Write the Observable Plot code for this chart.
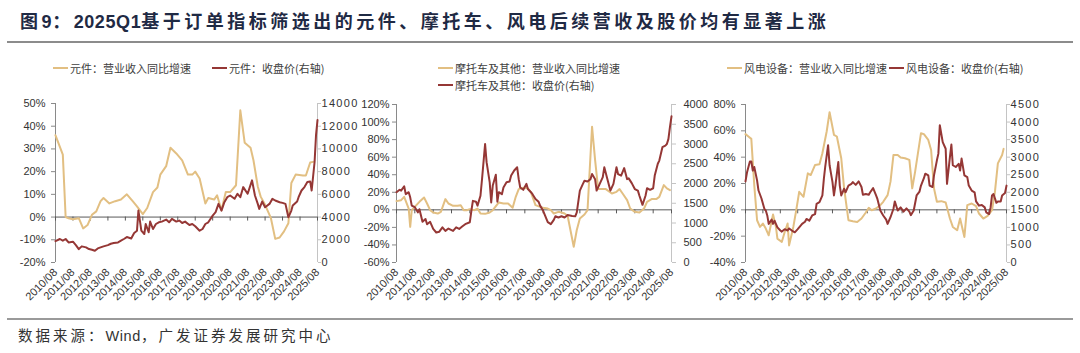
<!DOCTYPE html>
<html><head><meta charset="utf-8">
<script src="https://cdn.jsdelivr.net/npm/d3@7"></script>
<script src="https://cdn.jsdelivr.net/npm/@observablehq/plot@0.6"></script>
<style>
html,body{margin:0;padding:0;background:#fff;}
#root{position:relative;width:1080px;height:353px;overflow:hidden;font-family:"Noto Sans CJK SC",sans-serif;}
.abs{position:absolute;white-space:nowrap;}
.title{left:20px;top:13px;font-family:"Liberation Sans","Noto Sans CJK SC",sans-serif;font-size:18px;line-height:19px;font-weight:bold;color:#1f2a44;letter-spacing:3.5px;}
.lat{letter-spacing:0.6px;}
.hr{left:7px;width:1066px;}
.caption{left:18px;top:328px;font-family:"Liberation Sans","Noto Sans CJK SC",sans-serif;font-size:14.5px;line-height:16px;color:#333;letter-spacing:3px;}
.leg{font-size:11px;line-height:13px;color:#404040;}
.sw{position:absolute;height:2px;width:15px;}
</style></head>
<body><div id="root"></div>
<script>
// ---------- data ----------
const xTickLabels = ["2010/08","2011/08","2012/08","2013/08","2014/08","2015/08","2016/08","2017/08","2018/08","2019/08","2020/08","2021/08","2022/08","2023/08","2024/08","2025/08"];

const legendLabels = [
  ["元件：营业收入同比增速", "元件：收盘价(右轴)"],
  ["摩托车及其他：营业收入同比增速", "摩托车及其他：收盘价(右轴)"],
  ["风电设备：营业收入同比增速", "风电设备：收盘价(右轴)"]
];

const leftTicks1 = [-20,-10,0,10,20,30,40,50];
const rightTicks1 = [0,2000,4000,6000,8000,10000,12000,14000];
const leftTicks2 = [-60,-40,-20,0,20,40,60,80,100,120];
const rightTicks2 = [0,500,1000,1500,2000,2500,3000,3500,4000];
const leftTicks3 = [-40,-20,0,20,40,60,80];
const rightTicks3 = [0,500,1000,1500,2000,2500,3000,3500,4000,4500];

// 元件
const yjGrowth = [["2010-08",36],["2011-01",27.5],["2011-03",0],["2011-05",-0.5],["2011-08",-1],["2011-12",-0.5],["2012-03",-5],["2012-06",-3.5],["2012-09",1],["2012-12",2.5],["2013-03",7],["2013-05",8.4],["2013-09",6],["2014-01",7],["2014-05",7.7],["2014-09",10],["2015-01",7],["2015-04",4.7],["2015-08",1.3],["2015-11",4],["2016-03",11],["2016-06",13],["2016-08",18.7],["2016-12",22.4],["2017-03",30.5],["2017-07",28],["2017-11",25],["2018-03",18.7],["2018-06",18.7],["2018-08",20],["2018-11",17],["2019-03",6],["2019-05",8.4],["2019-09",7.7],["2019-11",9.6],["2020-02",3],["2020-05",11],["2020-08",11],["2020-12",14],["2021-03",47],["2021-06",32.7],["2021-10",30.5],["2021-12",25],["2022-03",13.5],["2022-05",9],["2022-08",5.4],["2022-12",-0.5],["2023-03",-9.6],["2023-06",-9],["2023-09",-6.3],["2023-12",-2.7],["2024-02",15],["2024-05",18.7],["2024-10",18.3],["2024-12",18.3],["2025-03",24],["2025-05",24.3]];
const yjPrice = [["2010-08",1880],["2010-11",2070],["2011-01",1920],["2011-03",2070],["2011-05",1770],["2011-08",1830],["2011-10",1530],["2011-12",1180],["2012-02",1420],["2012-05",1330],["2012-07",1180],["2012-09",1120],["2012-11",1030],["2013-01",1240],["2013-03",1330],["2013-05",1420],["2013-08",1530],["2013-10",1650],["2013-12",1710],["2014-03",1770],["2014-05",1920],["2014-07",2070],["2014-09",2240],["2014-12",2120],["2015-02",2600],["2015-04",2800],["2015-05",4570],["2015-06",3690],["2015-07",2800],["2015-09",2510],["2015-10",3390],["2015-12",2660],["2016-01",3600],["2016-03",2950],["2016-05",3390],["2016-07",3540],["2016-09",3600],["2016-12",3780],["2017-02",3540],["2017-04",3840],["2017-07",3600],["2017-09",3690],["2017-11",3480],["2018-01",3600],["2018-04",3300],["2018-06",3390],["2018-08",3190],["2018-11",2800],["2019-01",2950],["2019-03",3390],["2019-05",3540],["2019-08",4130],["2019-10",4430],["2019-12",5160],["2020-02",4570],["2020-04",5310],["2020-06",5750],["2020-08",5900],["2020-11",5610],["2021-01",6050],["2021-03",5750],["2021-05",6640],["2021-08",6050],["2021-10",6840],["2021-11",7230],["2022-01",5900],["2022-03",5160],["2022-04",4720],["2022-06",5370],["2022-08",4870],["2022-11",5160],["2023-01",5610],["2023-03",5460],["2023-06",5310],["2023-08",5250],["2023-10",5160],["2023-12",3980],["2024-02",4570],["2024-03",5020],["2024-06",5370],["2024-07",5750],["2024-09",6340],["2024-11",6640],["2025-01",7080],["2025-03",7140],["2025-04",6340],["2025-06",8850],["2025-07",11210],["2025-08",12540]];

// 摩托车及其他
const mtcGrowth = [["2010-08",9.9],["2010-11",11],["2011-01",14.8],["2011-04",1.5],["2011-05",-19.4],["2011-06",-0.4],["2011-09",5.3],["2011-11",9.1],["2012-02",14],["2012-04",7.2],["2012-06",-0.4],["2012-08",-3],["2012-11",-4.2],["2013-01",-2.3],["2013-04",12.2],["2013-06",7.2],["2013-09",4.6],["2013-12",4.6],["2014-02",5.3],["2014-04",-0.4],["2014-06",-0.4],["2014-08",0.8],["2014-11",-0.4],["2015-01",1.5],["2015-03",-4.2],["2015-06",-4.6],["2015-09",-3],["2015-11",-0.4],["2016-03",8.4],["2016-06",7.2],["2016-09",7.2],["2016-12",2.3],["2017-02",14.8],["2017-04",23.6],["2017-07",25.1],["2017-10",24.4],["2017-12",19.8],["2018-03",5.3],["2018-06",3.4],["2018-08",2.3],["2018-11",1.5],["2019-01",-0.4],["2019-03",-4.2],["2019-06",-2.3],["2019-08",-3],["2019-10",-4.2],["2019-12",-6.8],["2020-04",-42],["2020-06",-23],["2020-08",-9.9],["2020-11",-5.3],["2021-01",-0.4],["2021-04",94.7],["2021-06",56.7],["2021-08",23.6],["2021-10",23.6],["2022-01",23.6],["2022-05",18.6],["2022-08",20.5],["2022-10",23.6],["2022-12",18.6],["2023-03",11],["2023-05",1.5],["2023-08",-2.3],["2023-11",-3],["2024-02",1.5],["2024-04",9.1],["2024-07",12.2],["2024-10",12.2],["2024-12",14.8],["2025-03",28.2],["2025-05",24.4],["2025-07",22.5]];
const mtcPrice = [["2010-08",1780],["2010-10",1840],["2010-11",1820],["2011-01",1930],["2011-02",1730],["2011-04",1780],["2011-05",1650],["2011-06",1440],["2011-08",1400],["2011-10",1270],["2011-11",1350],["2012-01",1030],["2012-03",1100],["2012-04",970],["2012-06",1030],["2012-08",850],["2012-10",760],["2012-12",780],["2013-02",890],["2013-04",800],["2013-06",860],["2013-09",800],["2013-11",890],["2014-01",850],["2014-03",910],["2014-05",970],["2014-08",1020],["2014-09",1310],["2014-10",1560],["2014-12",1540],["2015-01",1440],["2015-03",1690],["2015-04",2110],["2015-06",3000],["2015-07",2540],["2015-09",2030],["2015-10",1520],["2015-11",1950],["2016-01",2220],["2016-02",1540],["2016-03",1780],["2016-05",1730],["2016-06",1900],["2016-08",2030],["2016-10",2050],["2016-11",2200],["2017-01",2330],["2017-03",2410],["2017-04",2110],["2017-05",1900],["2017-07",1840],["2017-09",1990],["2017-10",1860],["2017-12",1780],["2018-01",1730],["2018-03",1610],["2018-05",1540],["2018-06",1440],["2018-08",1310],["2018-10",1120],["2018-11",1020],["2019-01",970],["2019-03",1080],["2019-04",1170],["2019-06",1140],["2019-08",1170],["2019-10",1140],["2019-12",1200],["2020-03",1180],["2020-05",1170],["2020-06",1270],["2020-08",1820],["2020-10",1990],["2020-11",2070],["2021-01",2050],["2021-03",2110],["2021-04",2240],["2021-06",2110],["2021-07",1820],["2021-09",1990],["2021-11",2160],["2021-12",2410],["2022-02",2110],["2022-04",1820],["2022-06",1990],["2022-08",2410],["2022-09",2240],["2022-11",2200],["2023-01",2390],["2023-03",2110],["2023-04",2130],["2023-06",2010],["2023-08",1860],["2023-10",1820],["2023-11",1690],["2024-01",1460],["2024-03",1690],["2024-04",1880],["2024-06",1840],["2024-08",1880],["2024-09",2200],["2024-11",2500],["2024-12",2580],["2025-02",2920],["2025-04",2960],["2025-05",3000],["2025-06",3130],["2025-07",3430],["2025-08",3700]];

// 风电设备
const fdGrowth = [["2010-08",57.5],["2010-10",55.7],["2010-12",53.9],["2011-02",18.8],["2011-04",-7.9],["2011-06",-13],["2011-08",-10.4],["2011-10",-14.2],["2011-12",-19.3],["2012-03",-3.6],["2012-05",-13],["2012-06",-21.9],["2012-09",-24.4],["2012-11",-16.8],["2013-01",-10.4],["2013-02",-27],["2013-05",-13],["2013-07",-0.3],["2013-09",13.7],["2013-12",9.9],["2014-03",27.7],["2014-05",26.4],["2014-08",34.1],["2014-11",34.6],["2015-01",43],["2015-04",59.5],["2015-06",74.2],["2015-09",57],["2015-11",55.7],["2016-02",39.2],["2016-04",16.3],["2016-07",-7.9],["2016-10",-8.6],["2017-01",-9.2],["2017-04",-6.6],["2017-07",-2],["2017-09",1.5],["2017-11",-0.3],["2018-02",1],["2018-05",3.6],["2018-07",6.1],["2018-10",11.2],["2018-12",21.4],["2019-02",41.7],["2019-05",41.7],["2019-07",39.7],["2019-10",39.2],["2020-01",37.9],["2020-03",16.3],["2020-05",29],["2020-09",58.2],["2020-11",57.5],["2021-02",53.1],["2021-04",45.5],["2021-06",16.3],["2021-08",6.1],["2021-11",6.6],["2022-02",5.6],["2022-05",-6.6],["2022-07",-13],["2022-10",-15.5],["2022-12",-6.6],["2023-03",-20.6],["2023-05",3.6],["2023-08",4.8],["2023-11",2.8],["2024-01",-2.8],["2024-04",-6.6],["2024-07",-4.6],["2024-10",-0.3],["2024-12",13.7],["2025-02",35.3],["2025-05",41.7],["2025-06",46.3]];
const fdPrice = [["2010-08",2310],["2010-09",2560],["2010-11",2880],["2010-12",2880],["2011-01",2620],["2011-02",2720],["2011-04",2340],["2011-05",2050],["2011-07",1830],["2011-09",1530],["2011-10",1480],["2011-11",1340],["2011-12",1100],["2012-02",1220],["2012-03",1100],["2012-04",1190],["2012-06",1000],["2012-08",910],["2012-09",880],["2012-11",950],["2013-01",910],["2013-02",970],["2013-04",910],["2013-06",860],["2013-08",950],["2013-09",1000],["2013-11",1100],["2014-01",1160],["2014-02",1240],["2014-04",1190],["2014-06",1340],["2014-08",1380],["2014-09",1670],["2014-11",1720],["2015-01",1910],["2015-02",2380],["2015-03",2720],["2015-05",3340],["2015-06",2770],["2015-08",2290],["2015-09",1910],["2015-10",2190],["2015-12",2860],["2016-01",2190],["2016-02",1910],["2016-04",2100],["2016-05",2000],["2016-07",2190],["2016-09",2240],["2016-10",2290],["2016-12",2210],["2017-02",2310],["2017-04",2150],["2017-05",1930],["2017-07",1950],["2017-09",1930],["2017-10",2000],["2017-12",2120],["2018-02",1910],["2018-03",1810],["2018-05",1480],["2018-07",1340],["2018-09",1220],["2018-10",1100],["2018-12",1290],["2019-02",1530],["2019-03",1740],["2019-05",1480],["2019-07",1570],["2019-09",1450],["2019-11",1540],["2020-01",1450],["2020-02",1350],["2020-04",1480],["2020-06",1910],["2020-08",2020],["2020-09",2190],["2020-11",2400],["2020-12",2530],["2021-02",2480],["2021-03",2190],["2021-05",2150],["2021-06",2480],["2021-08",2910],["2021-09",3100],["2021-10",3910],["2021-12",3430],["2022-02",3240],["2022-03",2240],["2022-05",3000],["2022-06",3360],["2022-07",2770],["2022-09",2720],["2022-11",2810],["2022-12",2620],["2023-01",2960],["2023-03",2480],["2023-05",2430],["2023-06",2190],["2023-08",2050],["2023-10",2000],["2023-11",1740],["2024-01",1620],["2024-03",1640],["2024-05",1570],["2024-06",1430],["2024-08",1380],["2024-09",1570],["2024-10",1910],["2024-11",1950],["2025-01",1700],["2025-02",1740],["2025-04",1740],["2025-05",1910],["2025-07",1980],["2025-08",2190]];

// ---------- rendering ----------
const GOLD = "#e2bf82";
const RED = "#953735";
const root = document.getElementById("root");
const parseM = d3.utcParse("%Y-%m");
const parseT = d3.utcParse("%Y/%m");
const xTicks = xTickLabels.map(parseT);
const xStart = xTicks[0], xEnd = xTicks[xTicks.length - 1];

function addDiv(cls, css, html) {
  const d = document.createElement("div");
  d.className = "abs " + cls;
  d.style.cssText = css;
  if (html != null) d.innerHTML = html;
  root.appendChild(d);
  return d;
}

addDiv("title", "", '图<span class="lat">9</span>：<span class="lat">2025Q1</span>基于订单指标筛选出的元件、摩托车、风电后续营收及股价均有显著上涨');
addDiv("hr", "top:41px;height:2px;background:#8c8c8c;");
addDiv("hr", "top:318px;height:1.5px;background:#9a9a9a;");
addDiv("caption", "", '数据来源：<span class="lat">Wind</span>，广发证券发展研究中心');

function legendItem(x, y, color, text) {
  addDiv("sw", `left:${x}px;top:${y - 1}px;background:${color};`);
  addDiv("leg", `left:${x + 17}px;top:${y - 6.5}px;`, text);
}
legendItem(53, 68, GOLD, legendLabels[0][0]);
legendItem(212, 68, RED, legendLabels[0][1]);
legendItem(438, 68, GOLD, legendLabels[1][0]);
legendItem(438, 85, RED, legendLabels[1][1]);
legendItem(727, 68, GOLD, legendLabels[2][0]);
legendItem(889, 68, RED, legendLabels[2][1]);

function panel(cfg) {
  const {growth, price, lt, rt, left, top, width, height, mL, mR, mT, mB, lPad, rSize, rPad, rSpacing} = cfg;
  const lo = lt[0], hi = lt[lt.length - 1], rlo = rt[0], rhi = rt[rt.length - 1];
  const toL = v => lo + (v - rlo) / (rhi - rlo) * (hi - lo);
  const fromL = v => rlo + (v - lo) / (hi - lo) * (rhi - rlo);
  const g = growth.map(([d, v]) => ({date: parseM(d), v}));
  const p = price.map(([d, v]) => ({date: parseM(d), v: toL(v)}));
  const plotH = height - mT - mB;
  const tickLen = 4 * (hi - lo) / plotH;
  const svg = Plot.plot({
    width, height,
    marginLeft: mL, marginRight: mR, marginTop: mT, marginBottom: mB,
    style: {background: "transparent", overflow: "visible", fontFamily: "'Liberation Sans', Arial, sans-serif", fontSize: "11px", color: "#333"},
    x: {type: "utc", domain: [xStart, xEnd], label: null},
    y: {domain: [lo, hi], label: null},
    marks: [
      Plot.ruleX([xStart], {stroke: "#8a8a8a"}),
      Plot.ruleX([xEnd], {stroke: "#c4c4c4"}),
      Plot.ruleY([0], {stroke: "#595959"}),
      Plot.ruleX(xTicks, {x: d => d, y1: 0, y2: -tickLen, stroke: "#595959"}),
      Plot.axisY(lt, {anchor: "left", label: null, tickSize: 4, tickPadding: lPad, stroke: "#8a8a8a", tickFormat: d => d + "%", fontSize: 11}),
      Plot.axisY(rt.map(toL), {anchor: "right", label: null, tickSize: rSize, tickPadding: rPad, stroke: "#c4c4c4", tickFormat: d => String(Math.round(fromL(d))), fontSize: 11}),
      Plot.axisX(xTicks, {anchor: "bottom", label: null, tickSize: 0, tickPadding: 8, tickRotate: -45, tickFormat: d3.utcFormat("%Y/%m"), fontSize: 11}),
      Plot.line(g, {x: "date", y: "v", stroke: GOLD, strokeWidth: 2}),
      Plot.line(p, {x: "date", y: "v", stroke: RED, strokeWidth: 2})
    ]
  });
  svg.style.position = "absolute";
  svg.style.left = left + "px";
  svg.style.top = top + "px";
  svg.style.maxWidth = "none";
  d3.select(svg).selectAll('g[aria-label="y-axis tick label"]').each(function () {
    if (this.getAttribute("text-anchor") === "start" && rSpacing) this.style.letterSpacing = rSpacing + "px";
  });
  root.appendChild(svg);
}

panel({growth: yjGrowth, price: yjPrice, lt: leftTicks1, rt: rightTicks1,
  left: 0, top: 90, width: 350, height: 230, mL: 55, mR: 33, mT: 13, mB: 58, lPad: 6, rSize: 3, rPad: 1, rSpacing: 1.3});
panel({growth: mtcGrowth, price: mtcPrice, lt: leftTicks2, rt: rightTicks2,
  left: 350, top: 90, width: 365, height: 230, mL: 46, mR: 44, mT: 14, mB: 58, lPad: 3, rSize: 4, rPad: 8, rSpacing: 0});
panel({growth: fdGrowth, price: fdPrice, lt: leftTicks3, rt: rightTicks3,
  left: 705, top: 90, width: 375, height: 230, mL: 40, mR: 74, mT: 14, mB: 58, lPad: 6, rSize: 3, rPad: 1, rSpacing: 1.3});
</script>
</body></html>
